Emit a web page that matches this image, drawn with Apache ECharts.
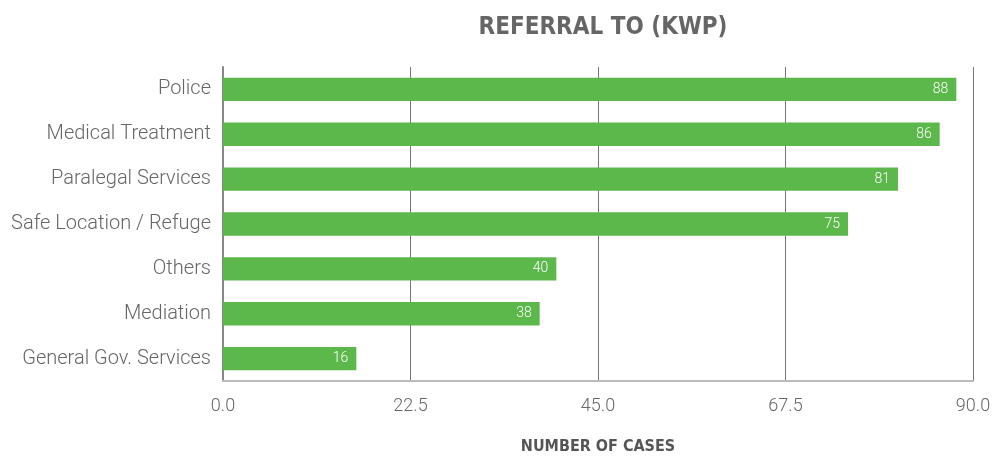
<!DOCTYPE html>
<html>
<head>
<meta charset="utf-8">
<script src="https://cdn.jsdelivr.net/npm/echarts@6/dist/echarts.min.js"></script>
<style>
  html, body { margin: 0; padding: 0; background: #fff; }
  #chart { width: 992px; height: 456px; }
</style>
</head>
<body>
<div id="chart"></div>
<script>
// referral categories, top to bottom as drawn
const categories = ["Police", "Medical Treatment", "Paralegal Services", "Safe Location / Refuge", "Others", "Mediation", "General Gov. Services"];
const cases = [88, 86, 81, 75, 40, 38, 16];
const xTicks = [0, 22.5, 45, 67.5, 90];

const chart = echarts.init(document.getElementById("chart"));
chart.setOption({
  animation: false,
  title: {
    text: "REFERRAL TO (KWP)",
    left: 598,
    textAlign: "center",
    top: 11,
    textStyle: {
      fontFamily: "DejaVu Sans Condensed",
      fontWeight: "bold",
      fontSize: 24,
      color: "#666"
    }
  },
  grid: {
    left: 223,
    right: 19,
    top: 67,
    bottom: 75,
    outerBoundsMode: "none"
  },
  xAxis: {
    type: "value",
    min: xTicks[0],
    max: xTicks[xTicks.length - 1],
    interval: 22.5,
    name: "NUMBER OF CASES",
    nameLocation: "middle",
    nameGap: 58,
    nameTextStyle: {
      fontFamily: "DejaVu Sans Condensed",
      fontWeight: "bold",
      fontSize: 16,
      color: "#555"
    },
    axisLine: { show: true, lineStyle: { color: "#bbb", width: 2 } },
    axisTick: { show: false },
    axisLabel: {
      margin: 16,
      fontFamily: "Roboto",
      fontWeight: 300,
      fontSize: 18,
      color: "#666",
      formatter: v => v.toFixed(1)
    },
    splitLine: { show: true, lineStyle: { color: "#777", width: 1 } }
  },
  yAxis: {
    type: "category",
    inverse: true,
    data: categories,
    axisLine: { show: true, lineStyle: { color: "#888", width: 2 } },
    axisTick: { show: false },
    axisLabel: {
      margin: 12,
      fontFamily: "Roboto",
      fontWeight: 300,
      fontSize: 20,
      color: "#666"
    }
  },
  series: [{
    type: "bar",
    data: cases,
    barCategoryGap: "48%",
    itemStyle: { color: "#5cb84b" },
    label: {
      show: true,
      position: "insideRight",
      distance: 8,
      fontFamily: "Roboto",
      fontWeight: 300,
      fontSize: 14,
      color: "#fff"
    }
  }]
});
</script>
</body>
</html>
